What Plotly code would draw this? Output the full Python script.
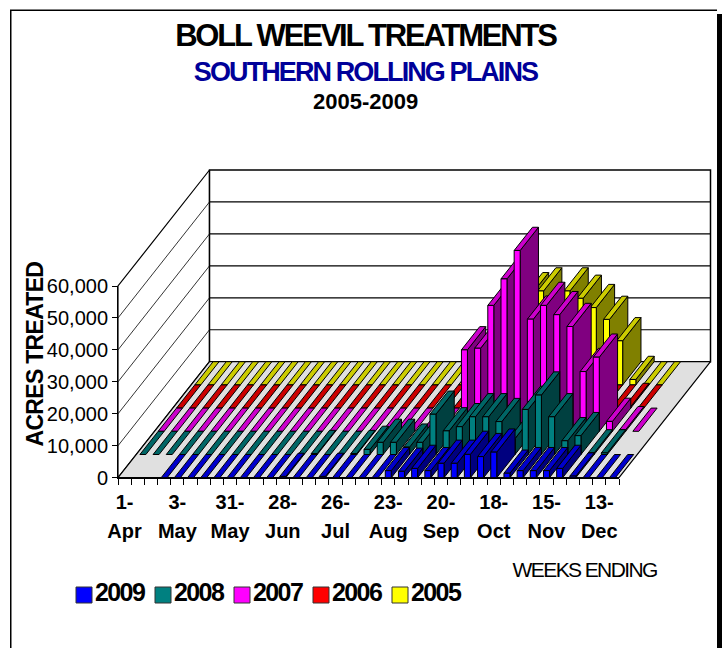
import plotly.graph_objects as go

# ---------- data ----------
years = ["2009", "2008", "2007", "2006", "2005"]
label_top = ["1-", "3-", "31-", "28-", "26-", "23-", "20-", "18-", "15-", "13-"]
label_bottom = ["Apr", "May", "May", "Jun", "Jul", "Aug", "Sep", "Oct", "Nov", "Dec"]
y_ticks = [0, 10000, 20000, 30000, 40000, 50000, 60000]

acres_2009 = [None, None, None, 0, 0, 0, 0, 0, 0, 0, 0, 0, 400, 0, 0, 400, 0, 0, 0, 0,
              2200, 2000, 2900, 2200, 4500, 4500, 7300, 6600, 8000, 1400, 2200, 2200, 2200, 2900, 500, 0, 0, 0]
acres_2008 = [0, 0, 0, 0, 0, 0, 0, 0, 0, 0, 0, 0, 0, 300, 0, 0, 300, 1600, 3800, 3800,
              2300, 3800, 12600, 7400, 8700, 11800, 11800, 10300, 5000, 14100, 18600, 11800, 4300, 5900, 500, 500, None, None]
acres_2007 = [0, 0, 0, 0, 0, 0, 0, 0, 0, 0, 0, 0, 0, 0, 0, 0, 0, 0, 0, 0,
              0, 0, 0, 25500, 26000, 39400, 47700, 56600, 35100, 39400, 36500, 32800, 18700, 23200, 3100, 500, 0, None]
acres_2006 = [0, 0, 0, 0, 0, 0, 0, 0, 0, 0, 0, 0, 0, 0, 0, 0, 0, 0, 0, 0,
              0, 0, 0, 0, 0, 0, 0, 0, 0, 0, 0, 0, 0, 0, 500, 0, None, None]
acres_2005 = [0, 0, 0, 0, 0, 0, 0, 0, 0, 0, 0, 0, 0, 0, 0, 0, 0, 0, 0, 0,
              0, 0, 0, 5000, 15000, 27900, 29400, 15000, 29400, 27100, 24200, 20500, 13800, 1700, 0, 0, None, None]
series = [acres_2009, acres_2008, acres_2007, acres_2006, acres_2005]

front_colors = ["#0000FF", "#008080", "#FF00FF", "#FF0000", "#FFFF00"]
top_colors = ["#0000CC", "#006666", "#CC00CC", "#CC0000", "#CCCC00"]
side_colors = ["#00007F", "#004040", "#800080", "#800000", "#808000"]

# ---------- page geometry (pixels) ----------
W, H = 726, 648
X0, X1 = 118.0, 619.0          # front edge of the floor
Y0, Y60 = 477.7, 286.0         # value 0 and value 60,000 on the front axis
DEPTH_PX = (91.5, 116.0)
N = len(acres_2009)
px_x = (X1 - X0) / N
px_y = (Y0 - Y60) / 60000
DX = DEPTH_PX[0] / px_x        # depth vector in data units
DY = DEPTH_PX[1] / px_y
BAR = 1 / 2.2                  # bar share of a category (gap width 120%)
VMAX = 60000
FONT = "Liberation Sans"


def proj(x, v, d):
    return x + d * DX, v + d * DY


def poly(corners, fill, line="#000000", lw=1.0):
    pts = [proj(*c) for c in corners]
    pts.append(pts[0])
    return go.Scatter(x=[p[0] for p in pts], y=[p[1] for p in pts], mode="lines", fill="toself",
                      fillcolor=fill, line=dict(color=line, width=lw), hoverinfo="skip",
                      showlegend=False, xaxis="x", yaxis="y")


def seg(a, b, lw=1.0, color="#000000"):
    pa, pb = proj(*a), proj(*b)
    return go.Scatter(x=[pa[0], pb[0]], y=[pa[1], pb[1]], mode="lines", line=dict(color=color, width=lw),
                      hoverinfo="skip", showlegend=False, xaxis="x", yaxis="y")


fig = go.Figure()

# walls and floor
fig.add_trace(poly([(0, 0, 0), (0, VMAX, 0), (0, VMAX, 1), (0, 0, 1)], "#FFFFFF", lw=1.2))
fig.add_trace(poly([(0, 0, 1), (0, VMAX, 1), (N, VMAX, 1), (N, 0, 1)], "#FFFFFF", lw=1.5))
for v in y_ticks[1:-1]:
    fig.add_trace(seg((0, v, 0), (0, v, 1), 0.8))
    fig.add_trace(seg((0, v, 1), (N, v, 1), 1.2))
fig.add_trace(poly([(0, 0, 0), (N, 0, 0), (N, 0, 1), (0, 0, 1)], "#E0E0E0", lw=1.2))

# bars, back row first, left to right in each row
for r in range(len(series) - 1, -1, -1):
    d0, d1 = r / len(series), (r + 1) / len(series)
    for k, v in enumerate(series[r]):
        if v is None:
            continue
        xa = k + (1 - BAR) / 2
        xb = xa + BAR
        if v > 0:
            fig.add_trace(poly([(xb, 0, d0), (xb, v, d0), (xb, v, d1), (xb, 0, d1)], side_colors[r]))
        fig.add_trace(poly([(xa, v, d0), (xb, v, d0), (xb, v, d1), (xa, v, d1)], top_colors[r]))
        if v > 0:
            fig.add_trace(poly([(xa, 0, d0), (xb, 0, d0), (xb, v, d0), (xa, v, d0)], front_colors[r]))

# helper traces so that the axes exist
for xa_name, ya_name in [("x2", "y2"), ("x3", "y2"), ("x4", "y2")]:
    fig.add_trace(go.Scatter(x=[None], y=[None], xaxis=xa_name, yaxis=ya_name, showlegend=False, hoverinfo="skip"))

# legend row
for i, yr in enumerate(years):
    fig.add_trace(go.Scatter(x=[i], y=[0], xaxis="x5", yaxis="y5", mode="markers+text", text=[yr],
                             textposition="middle right", cliponaxis=False, hoverinfo="skip", showlegend=False,
                             textfont=dict(family=FONT, size=25, color="#000000", weight="bold"),
                             marker=dict(symbol="square", size=16, color=front_colors[i],
                                         line=dict(color="#333333", width=1))))

ticks_mid = [0.5 + 4 * i for i in range(len(label_top))]
lab_font = dict(family=FONT, size=20, color="#000000", weight="bold")
dom_x = [X0 / W, X1 / W]
dom_y = [1 - Y0 / H, 1 - Y60 / H]


def note(text, x, y, size, color="#000000", angle=0):
    return dict(text=text, x=x / W, y=1 - y / H, xref="paper", yref="paper", showarrow=False, textangle=angle,
                xanchor="center", yanchor="middle", font=dict(family=FONT, size=size, color=color))


fig.update_layout(
    width=W, height=H, autosize=False, margin=dict(l=0, r=0, t=0, b=0, pad=0, autoexpand=False),
    paper_bgcolor="#FFFFFF", plot_bgcolor="rgba(0,0,0,0)", showlegend=False,
    xaxis=dict(domain=[0, 1], range=[-X0 / px_x, (W - X0) / px_x], visible=False, fixedrange=True),
    yaxis=dict(domain=[0, 1], range=[-(H - Y0) / px_y, Y0 / px_y], visible=False, fixedrange=True),
    xaxis2=dict(domain=dom_x, range=[0, N], anchor="y2", tickmode="array", tickvals=list(range(N + 1)),
                ticks="outside", ticklen=6, tickcolor="#000000", showticklabels=False, showline=True,
                linecolor="#000000", linewidth=1, showgrid=False, zeroline=False, fixedrange=True),
    xaxis3=dict(overlaying="x2", range=[0, N], anchor="y2", tickmode="array", tickvals=ticks_mid, ticktext=label_top,
                ticks="", tickfont=lab_font, ticklabelstandoff=10, showgrid=False, zeroline=False, showline=False,
                tickangle=0, fixedrange=True),
    xaxis4=dict(overlaying="x2", range=[0, N], anchor="y2", tickmode="array", tickvals=ticks_mid, ticktext=label_bottom,
                ticks="", tickfont=lab_font, ticklabelstandoff=39, showgrid=False, zeroline=False, showline=False,
                tickangle=0, fixedrange=True),
    yaxis2=dict(domain=dom_y, range=[0, VMAX], anchor="x2", tickmode="array", tickvals=y_ticks,
                ticktext=[f"{v:,}" for v in y_ticks], ticks="outside", ticklen=5, tickcolor="#000000",
                tickfont=dict(family=FONT, size=20, color="#000000"), showline=True, linecolor="#000000",
                linewidth=1, showgrid=False, zeroline=False, fixedrange=True),
    xaxis5=dict(domain=[84 / W, (84 + 79 * 4) / W], range=[0, 4], anchor="y5", visible=False, fixedrange=True),
    yaxis5=dict(domain=[1 - 605 / H, 1 - 585 / H], range=[-1, 1], anchor="x5", visible=False, fixedrange=True),
    annotations=[
        note("<b>BOLL WEEVIL TREATMENTS</b>", 365, 35.5, 31),
        note("<b>SOUTHERN ROLLING PLAINS</b>", 365, 71.5, 27, "#000099"),
        note("<b>2005-2009</b>", 365, 101.5, 22),
        note("<b>ACRES TREATED</b>", 34.5, 354.5, 23, angle=-90),
        note("WEEKS ENDING", 584.5, 569, 21),
    ],
    shapes=[
        dict(type="rect", xref="paper", yref="paper", x0=10 / W, x1=11.5 / W, y0=0, y1=1 - 10 / H,
             fillcolor="#000000", line=dict(width=0)),
        dict(type="rect", xref="paper", yref="paper", x0=10 / W, x1=717 / W, y0=1 - 11 / H, y1=1 - 9.5 / H,
             fillcolor="#000000", line=dict(width=0)),
        dict(type="rect", xref="paper", yref="paper", x0=717 / W, x1=722 / W, y0=0, y1=1 - 14 / H,
             fillcolor="#000000", line=dict(width=0)),
    ],
)

# the reference's text is set tighter than the font's natural spacing
tight = """
document.documentElement.style.overflow = 'hidden';
document.body.style.margin = '0';
document.body.style.overflow = 'hidden';
var spacing = {'BOLL WEEVIL TREATMENTS': -2.2, 'SOUTHERN ROLLING PLAINS': -1.9, 'ACRES TREATED': -0.7,
               'WEEKS ENDING': -1.6};
document.querySelectorAll('.annotation-text').forEach(function (t) {
  var s = spacing[t.textContent];
  if (s) t.style.letterSpacing = s + 'px';
});
document.querySelectorAll('.xtick text').forEach(function (t) { t.style.letterSpacing = '-2px'; });
document.querySelectorAll('.ytick text').forEach(function (t) { t.style.letterSpacing = '-1.5px'; });
document.querySelectorAll('.textpoint text').forEach(function (t) { t.style.letterSpacing = '-1.6px'; });
"""
fig.write_html("out.html", post_script=tight, config={"displayModeBar": False})
